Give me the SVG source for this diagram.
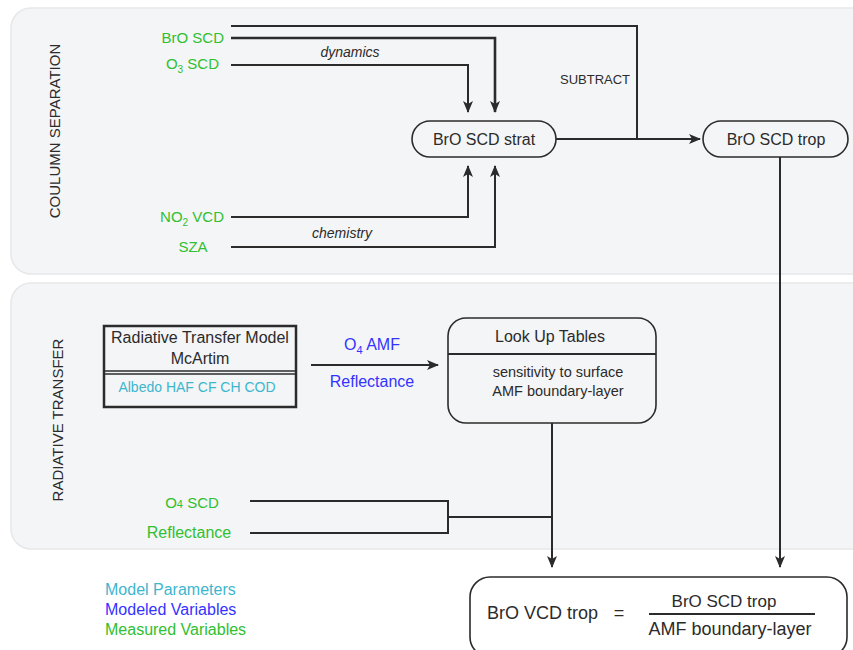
<svg xmlns="http://www.w3.org/2000/svg" width="853" height="650" viewBox="0 0 853 650">
  <style>
    text { font-family: "Liberation Sans", Arial, sans-serif; fill: #2b2b2b; }
    .panel { fill: #f4f5f7; stroke: #e6e7e9; stroke-width: 1.5; }
    .node { fill: none; stroke: #2b2b2b; stroke-width: 1.6; }
    .wire { fill: none; stroke: #2b2b2b; stroke-width: 2; }
    .thick { stroke-width: 2.6; }
    .meas { fill: #30c030; font-size: 15px; }
    .modv { fill: #3333ff; font-size: 16px; }
    .par { fill: #3db6cf; font-size: 14px; }
    .leg { font-size: 16px; }
    .lbl { font-size: 16px; }
    .big { font-size: 18px; }
    .small { font-size: 13px; }
    .ital { font-size: 14px; font-style: italic; }
    .side { font-size: 15px; }
  </style>
  <defs>
    <marker id="arr" viewBox="0 0 12 10" refX="11" refY="5" markerWidth="12" markerHeight="10" markerUnits="userSpaceOnUse" orient="auto">
      <path d="M0,0 L12,5 L0,10 L3,5 Z" fill="#2b2b2b"/>
    </marker>
  </defs>

  <!-- section panels -->
  <g id="panel-column">
    <rect class="panel" x="11" y="8" width="870" height="266" rx="20"/>
    <text class="side" transform="translate(60,131) rotate(-90)" text-anchor="middle">COULUMN SEPARATION</text>
  </g>
  <g id="panel-radiative">
    <rect class="panel" x="11" y="283" width="870" height="266" rx="20"/>
    <text class="side" transform="translate(63,420) rotate(-90)" text-anchor="middle">RADIATIVE TRANSFER</text>
  </g>

  <!-- connectors -->
  <g id="connectors">
    <polyline class="wire" points="231,26 637,26 637,139"/>
    <polyline class="wire thick" points="231,38 495,38 495,112" marker-end="url(#arr)"/>
    <polyline class="wire" points="231,65 468,65 468,112" marker-end="url(#arr)"/>
    <polyline class="wire" points="231,217 468,217 468,166" marker-end="url(#arr)"/>
    <polyline class="wire" points="231,247 495,247 495,166" marker-end="url(#arr)"/>
    <line class="wire" x1="556" y1="139" x2="700" y2="139" marker-end="url(#arr)"/>
    <line class="wire" x1="780" y1="157" x2="780" y2="567" marker-end="url(#arr)"/>
    <line class="wire" x1="311" y1="365" x2="438" y2="365" marker-end="url(#arr)"/>
    <line class="wire" x1="552" y1="423" x2="552" y2="567" marker-end="url(#arr)"/>
    <polyline class="wire" points="250,501 448,501 448,533 250,533"/>
    <line class="wire" x1="448" y1="517" x2="552" y2="517"/>
  </g>

  <!-- connector labels -->
  <g id="connector-labels">
    <text class="ital" x="350" y="57" text-anchor="middle">dynamics</text>
    <text class="ital" x="342" y="238" text-anchor="middle">chemistry</text>
    <text class="small" x="595" y="84" text-anchor="middle">SUBTRACT</text>
    <text class="modv" x="372" y="350" text-anchor="middle">O<tspan font-size="11" dy="4">4</tspan><tspan dy="-4"> AMF</tspan></text>
    <text class="modv" x="372" y="387" text-anchor="middle">Reflectance</text>
  </g>

  <!-- measured inputs -->
  <g id="inputs">
    <text class="meas" x="224" y="43" text-anchor="end">BrO SCD</text>
    <text class="meas" x="219" y="69" text-anchor="end">O<tspan font-size="10" dy="4">3</tspan><tspan dy="-4"> SCD</tspan></text>
    <text class="meas" x="224" y="222" text-anchor="end">NO<tspan font-size="10" dy="4">2</tspan><tspan dy="-4"> VCD</tspan></text>
    <text class="meas" x="193" y="252" text-anchor="middle">SZA</text>
    <text class="meas" x="192" y="508" text-anchor="middle">O<tspan font-size="11">4</tspan> SCD</text>
    <text class="meas leg" x="189" y="538" text-anchor="middle">Reflectance</text>
  </g>

  <g id="node-strat">
    <rect class="node" x="412" y="121" width="144" height="36" rx="18"/>
    <text class="lbl" x="484" y="145" text-anchor="middle">BrO SCD strat</text>
  </g>

  <g id="node-trop">
    <rect class="node" x="703" y="121" width="145" height="36" rx="18"/>
    <text class="lbl" x="776" y="145" text-anchor="middle">BrO SCD trop</text>
  </g>

  <g id="node-rtm">
    <rect x="104" y="326" width="192" height="81" fill="none" stroke="#2b2b2b" stroke-width="2.5"/>
    <line x1="104" y1="371" x2="296" y2="371" stroke="#2b2b2b" stroke-width="1.5"/>
    <line x1="104" y1="374" x2="296" y2="374" stroke="#2b2b2b" stroke-width="1.5"/>
    <text class="lbl" x="200" y="343" text-anchor="middle">Radiative Transfer Model</text>
    <text class="lbl" x="200" y="364" text-anchor="middle">McArtim</text>
    <text class="par" x="197" y="392" text-anchor="middle">Albedo HAF CF CH COD</text>
  </g>

  <g id="node-lut">
    <rect class="node" x="448" y="318" width="208" height="105" rx="18"/>
    <line x1="448" y1="354" x2="656" y2="354" stroke="#2b2b2b" stroke-width="1.8"/>
    <text class="lbl" x="550" y="342" text-anchor="middle">Look Up Tables</text>
    <text x="558" y="377" font-size="14.5" text-anchor="middle">sensitivity to surface</text>
    <text x="558" y="396" font-size="14.5" text-anchor="middle">AMF boundary-layer</text>
  </g>

  <g id="node-result">
    <rect class="node" x="470" y="577" width="377" height="80" rx="20"/>
    <text class="big" x="487" y="619">BrO VCD trop</text>
    <text class="big" x="619" y="619" text-anchor="middle">=</text>
    <text x="724" y="607" font-size="17" text-anchor="middle">BrO SCD trop</text>
    <line x1="649" y1="614" x2="815" y2="614" stroke="#2b2b2b" stroke-width="2"/>
    <text class="big" x="730" y="635" text-anchor="middle">AMF boundary-layer</text>
  </g>

  <g id="legend">
    <text class="par leg" x="105" y="595">Model Parameters</text>
    <text class="modv leg" x="105" y="615">Modeled Variables</text>
    <text class="meas leg" x="105" y="635">Measured Variables</text>
  </g>
</svg>
